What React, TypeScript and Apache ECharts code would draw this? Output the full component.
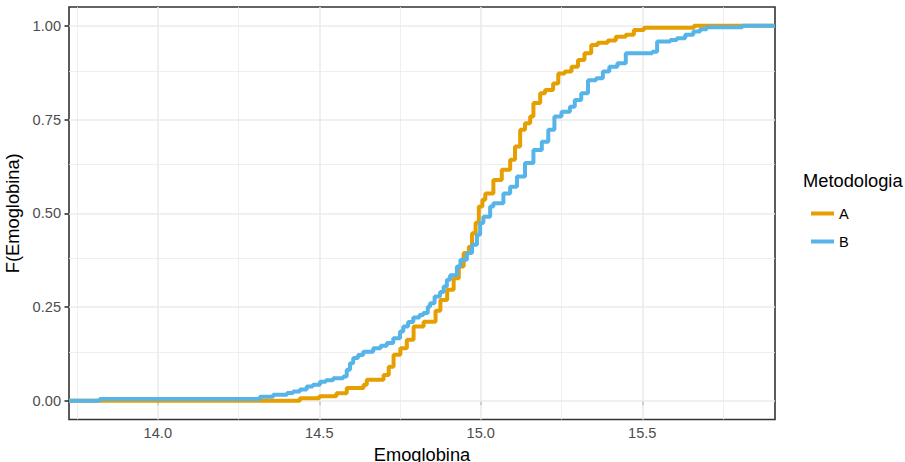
import React, { useEffect, useRef } from "react";
import * as echarts from "echarts";

// ECDF step points [Emoglobina, F]
const ecdfA: [number, number][] = [
  [14.44, 0.007], [14.5, 0.012], [14.553, 0.02], [14.585, 0.034], [14.637, 0.043],
  [14.647, 0.056], [14.699, 0.069], [14.715, 0.091], [14.73, 0.123], [14.751, 0.14],
  [14.771, 0.163], [14.792, 0.198], [14.823, 0.211], [14.86, 0.24], [14.875, 0.269],
  [14.896, 0.296], [14.916, 0.327], [14.932, 0.358], [14.947, 0.394], [14.963, 0.411],
  [14.973, 0.447], [14.984, 0.475], [14.994, 0.518], [15.005, 0.536], [15.014, 0.553],
  [15.039, 0.589], [15.065, 0.616], [15.091, 0.643], [15.106, 0.678], [15.122, 0.723],
  [15.137, 0.74], [15.153, 0.758], [15.163, 0.794], [15.184, 0.82], [15.199, 0.829],
  [15.224, 0.846], [15.24, 0.873], [15.26, 0.878], [15.281, 0.891], [15.301, 0.909],
  [15.321, 0.927], [15.342, 0.949], [15.362, 0.955], [15.393, 0.961], [15.418, 0.971],
  [15.449, 0.976], [15.474, 0.989], [15.505, 0.995], [15.66, 1.0],
];

const ecdfB: [number, number][] = [
  [13.82, 0.005], [14.316, 0.011], [14.357, 0.016], [14.4, 0.021], [14.419, 0.025],
  [14.44, 0.03], [14.461, 0.038], [14.48, 0.043], [14.502, 0.051], [14.52, 0.055],
  [14.543, 0.06], [14.574, 0.065], [14.585, 0.083], [14.595, 0.1], [14.605, 0.114],
  [14.62, 0.122], [14.636, 0.131], [14.667, 0.14], [14.69, 0.147], [14.709, 0.154],
  [14.729, 0.167], [14.75, 0.185], [14.76, 0.198], [14.775, 0.21], [14.791, 0.222],
  [14.81, 0.229], [14.822, 0.234], [14.836, 0.251], [14.843, 0.26], [14.857, 0.278],
  [14.874, 0.29], [14.885, 0.305], [14.895, 0.323], [14.905, 0.335], [14.926, 0.358],
  [14.937, 0.376], [14.957, 0.394], [14.973, 0.416], [14.988, 0.443], [14.998, 0.474],
  [15.008, 0.491], [15.029, 0.518], [15.039, 0.527], [15.07, 0.553], [15.091, 0.571],
  [15.112, 0.598], [15.137, 0.634], [15.163, 0.669], [15.189, 0.691], [15.209, 0.723],
  [15.228, 0.758], [15.25, 0.771], [15.276, 0.784], [15.291, 0.802], [15.311, 0.82],
  [15.332, 0.855], [15.357, 0.86], [15.378, 0.878], [15.398, 0.891], [15.423, 0.9],
  [15.449, 0.927], [15.531, 0.931], [15.546, 0.958], [15.587, 0.962], [15.607, 0.967],
  [15.633, 0.976], [15.658, 0.985], [15.679, 0.991], [15.699, 0.996], [15.81, 1.0],
];

const seriesNames = ["A", "B"];
const seriesColors = ["#E69F00", "#56B4E9"];

const xTicks = [14, 14.5, 15, 15.5];
const xMinor = [13.75, 14.25, 14.75, 15.25, 15.75];
const yTicks = [0, 0.25, 0.5, 0.75, 1];
const yMinor = [0.125, 0.375, 0.625, 0.875];

const X_MIN = 13.725;
const X_MAX = 15.911;
const Y_MIN = -0.05;
const Y_MAX = 1.05;

const FONT = "Liberation Sans, Arial, sans-serif";

export default function App() {
  const ref = useRef<HTMLDivElement>(null);

  useEffect(() => {
    if (!ref.current) return;
    const chart = echarts.init(ref.current, undefined, { renderer: "svg" });

    const pad = (pts: [number, number][]) => [[X_MIN, 0], ...pts, [X_MAX, 1]];

    const gridLines = [
      ...xTicks.map((v) => ({ xAxis: v, lineStyle: { width: 1.6, color: "#EBEBEB", type: "solid" } })),
      ...xMinor.map((v) => ({ xAxis: v, lineStyle: { width: 0.8, color: "#EBEBEB", type: "solid" } })),
      ...yTicks.map((v) => ({ yAxis: v, lineStyle: { width: 1.6, color: "#EBEBEB", type: "solid" } })),
      ...yMinor.map((v) => ({ yAxis: v, lineStyle: { width: 0.8, color: "#EBEBEB", type: "solid" } })),
    ];

    const legendText = { fontSize: 14.6, color: "#000000", lineHeight: 16, fontFamily: FONT };

    chart.setOption({
      animation: false,
      backgroundColor: "#FFFFFF",
      textStyle: { fontFamily: FONT },
      grid: {
        left: 69,
        right: 130,
        top: 7,
        bottom: 42.5,
        show: true,
        borderColor: "#333333",
        borderWidth: 1.6,
        backgroundColor: "transparent",
        containLabel: false,
        outerBoundsMode: "none",
      },
      xAxis: {
        type: "value",
        min: X_MIN,
        max: X_MAX,
        name: "Emoglobina",
        nameLocation: "middle",
        nameGap: 25,
        nameTextStyle: { fontSize: 18.3, color: "#000000", fontFamily: FONT },
        axisLine: { show: false },
        axisTick: {
          show: true,
          customValues: xTicks,
          length: 4.5,
          lineStyle: { color: "#333333", width: 1.6 },
        },
        axisLabel: {
          customValues: xTicks,
          formatter: (v: number) => v.toFixed(1),
          color: "#4D4D4D",
          fontSize: 14.6,
          margin: 6,
          fontFamily: FONT,
        },
        splitLine: { show: false },
        minorSplitLine: { show: false },
      },
      yAxis: {
        type: "value",
        min: Y_MIN,
        max: Y_MAX,
        name: "F(Emoglobina)",
        nameLocation: "middle",
        nameGap: 42,
        nameTextStyle: { fontSize: 18.3, color: "#000000", fontFamily: FONT },
        axisLine: { show: false },
        axisTick: {
          show: true,
          customValues: yTicks,
          length: 4.5,
          lineStyle: { color: "#333333", width: 1.6 },
        },
        axisLabel: {
          customValues: yTicks,
          formatter: (v: number) => v.toFixed(2),
          color: "#4D4D4D",
          fontSize: 14.6,
          margin: 8,
          fontFamily: FONT,
        },
        splitLine: { show: false },
        minorSplitLine: { show: false },
      },
      legend: [
        {
          data: [seriesNames[0]],
          orient: "vertical",
          left: 806,
          top: 200.5,
          itemWidth: 23,
          itemHeight: 4,
          icon: "rect",
          itemStyle: { borderWidth: 0 },
          textStyle: legendText,
          selectedMode: false,
        },
        {
          data: [seriesNames[1]],
          orient: "vertical",
          left: 806,
          top: 228.5,
          itemWidth: 23,
          itemHeight: 4,
          icon: "rect",
          itemStyle: { borderWidth: 0 },
          textStyle: legendText,
          selectedMode: false,
        },
      ],
      graphic: [
        {
          type: "text",
          left: 803,
          top: 171,
          style: {
            text: "Metodologia",
            fontSize: 18.3,
            fontFamily: FONT,
            fill: "#000000",
          },
        },
      ],
      series: [
        {
          name: "__grid",
          type: "line",
          data: [],
          silent: true,
          z: 1,
          markLine: {
            silent: true,
            symbol: ["none", "none"],
            label: { show: false },
            z: 1,
            animation: false,
            data: gridLines,
          },
        },
        {
          name: seriesNames[0],
          type: "line",
          step: "end",
          data: pad(ecdfA),
          showSymbol: false,
          symbol: "none",
          z: 3,
          color: seriesColors[0],
          lineStyle: { color: seriesColors[0], width: 4 },
        },
        {
          name: seriesNames[1],
          type: "line",
          step: "end",
          data: pad(ecdfB),
          showSymbol: false,
          symbol: "none",
          z: 4,
          color: seriesColors[1],
          lineStyle: { color: seriesColors[1], width: 4 },
        },
      ],
    });

    return () => chart.dispose();
  }, []);

  return <div ref={ref} style={{ width: 905, height: 462, position: "absolute", left: 0, top: 0 }} />;
}
